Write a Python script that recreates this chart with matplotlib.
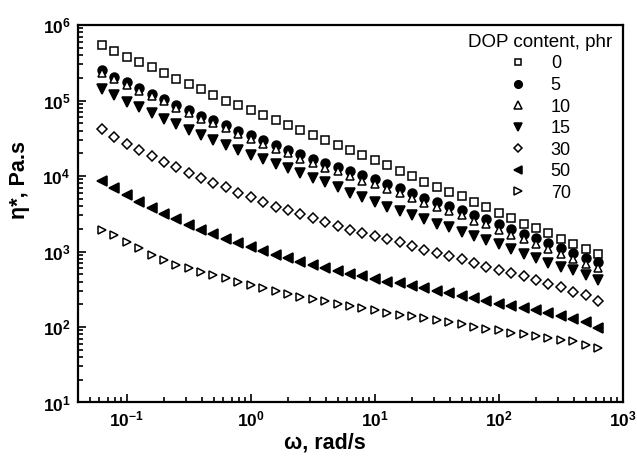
import numpy as np
import matplotlib.pyplot as plt
from matplotlib.ticker import FuncFormatter, LogLocator

plt.rcParams['font.family'] = ['Liberation Sans', 'DejaVu Sans']
plt.rcParams['mathtext.fontset'] = 'custom'
plt.rcParams['mathtext.rm'] = 'Liberation Sans'
plt.rcParams['mathtext.bf'] = 'Liberation Sans:bold'

# частота, рад/с
omega = [0.0628, 0.0791, 0.0995, 0.125, 0.158, 0.199, 0.250, 0.315, 0.396, 0.499,
         0.628, 0.791, 0.995, 1.25, 1.58, 1.99, 2.50, 3.15, 3.96, 4.99,
         6.28, 7.91, 9.95, 12.5, 15.8, 19.9, 25.0, 31.5, 39.6, 49.9,
         62.8, 79.1, 99.5, 125, 158, 199, 250, 315, 396, 499, 628]

# lg(eta*), Па.с, для разного содержания ДОФ
lg_eta_0 = [5.74, 5.66, 5.58, 5.51, 5.44, 5.37, 5.29, 5.22, 5.15, 5.07,
            5.00, 4.94, 4.87, 4.81, 4.74, 4.68, 4.61, 4.54, 4.48, 4.41,
            4.34, 4.28, 4.21, 4.14, 4.07, 4.00, 3.925, 3.86, 3.79, 3.73,
            3.65, 3.59, 3.51, 3.44, 3.37, 3.31, 3.24, 3.17, 3.10, 3.03, 2.97]
lg_eta_5 = [5.40, 5.31, 5.24, 5.16, 5.09, 5.02, 4.94, 4.87, 4.80, 4.74,
            4.67, 4.60, 4.54, 4.48, 4.41, 4.35, 4.29, 4.23, 4.17, 4.12,
            4.06, 4.01, 3.96, 3.90, 3.84, 3.78, 3.715, 3.66, 3.60, 3.55,
            3.48, 3.43, 3.36, 3.295, 3.23, 3.175, 3.11, 3.045, 2.98, 2.92, 2.865]
lg_eta_10 = [5.37, 5.28, 5.21, 5.13, 5.06, 4.99, 4.90, 4.83, 4.76, 4.70,
             4.63, 4.55, 4.49, 4.43, 4.36, 4.30, 4.23, 4.17, 4.11, 4.06,
             4.00, 3.94, 3.89, 3.83, 3.77, 3.71, 3.645, 3.59, 3.53, 3.48,
             3.41, 3.36, 3.29, 3.225, 3.16, 3.095, 3.03, 2.965, 2.90, 2.84, 2.785]
lg_eta_15 = [5.15, 5.07, 4.98, 4.92, 4.83, 4.76, 4.69, 4.61, 4.54, 4.48,
             4.41, 4.34, 4.28, 4.22, 4.16, 4.10, 4.04, 3.98, 3.92, 3.85,
             3.78, 3.72, 3.65, 3.59, 3.54, 3.48, 3.43, 3.37, 3.32, 3.26,
             3.21, 3.15, 3.10, 3.03, 2.97, 2.91, 2.85, 2.80, 2.75, 2.69, 2.62]
lg_eta_30 = [4.62, 4.52, 4.43, 4.34, 4.26, 4.19, 4.12, 4.04, 3.98, 3.91,
             3.85, 3.78, 3.72, 3.66, 3.59, 3.55, 3.50, 3.44, 3.395, 3.34,
             3.29, 3.25, 3.20, 3.16, 3.12, 3.07, 3.02, 2.98, 2.94, 2.90,
             2.85, 2.80, 2.755, 2.71, 2.67, 2.62, 2.57, 2.53, 2.47, 2.42, 2.35]
lg_eta_50 = [3.93, 3.84, 3.75, 3.66, 3.58, 3.50, 3.43, 3.35, 3.29, 3.23,
             3.17, 3.11, 3.055, 3.01, 2.95, 2.91, 2.865, 2.82, 2.78, 2.745,
             2.70, 2.67, 2.635, 2.60, 2.58, 2.54, 2.51, 2.48, 2.445, 2.41,
             2.38, 2.35, 2.31, 2.28, 2.25, 2.22, 2.18, 2.15, 2.10, 2.06, 1.99]
lg_eta_70 = [3.29, 3.22, 3.13, 3.04, 2.955, 2.89, 2.82, 2.78, 2.73, 2.69,
             2.645, 2.60, 2.556, 2.515, 2.475, 2.44, 2.40, 2.37, 2.34, 2.31,
             2.28, 2.25, 2.22, 2.19, 2.16, 2.14, 2.115, 2.09, 2.06, 2.04,
             2.00, 1.98, 1.96, 1.925, 1.91, 1.88, 1.85, 1.83, 1.81, 1.76, 1.72]

dop = ['0', '5', '10', '15', '30', '50', '70']
series = [lg_eta_0, lg_eta_5, lg_eta_10, lg_eta_15, lg_eta_30, lg_eta_50, lg_eta_70]
markers = ['s', 'o', '^', 'v', 'D', '<', '>']
filled = [False, True, False, True, False, True, False]
sizes = [5.4, 6.4, 6.2, 6.8, 5.2, 6.8, 6.2]

fig = plt.figure(figsize=(6.37, 4.59), dpi=100)
ax = fig.add_axes([0.1217, 0.1231, 0.8564, 0.8224])

for lab, lg, m, f, s in zip(dop, series, markers, filled, sizes):
    ax.plot(omega, 10 ** np.array(lg), linestyle='none', marker=m, markersize=s,
            markeredgewidth=1.1, markeredgecolor='black',
            markerfacecolor='black' if f else 'white', label=lab)

ax.set_xscale('log')
ax.set_yscale('log')
ax.set_xlim(0.04, 1000)
ax.set_ylim(10, 1e6)

ax.xaxis.set_major_locator(LogLocator(base=10, numticks=10))
ax.yaxis.set_major_locator(LogLocator(base=10, numticks=10))
ax.xaxis.set_minor_locator(LogLocator(base=10, subs=np.arange(2, 10), numticks=20))
ax.yaxis.set_minor_locator(LogLocator(base=10, subs=np.arange(2, 10), numticks=20))

fmt = FuncFormatter(lambda v, p: r'$\mathbf{10^{%d}}$' % round(np.log10(v)))
ax.xaxis.set_major_formatter(fmt)
ax.yaxis.set_major_formatter(fmt)

ax.tick_params(which='both', direction='in', top=False, right=False, width=1.2)
ax.tick_params(which='major', length=6, labelsize=12.5, pad=5)
ax.tick_params(which='minor', length=3.5)
for sp in ax.spines.values():
    sp.set_linewidth(1.6)

ax.set_xlabel('ω, rad/s', fontsize=15.5, fontweight='bold')
ax.set_ylabel('η*, Pa.s', fontsize=15.5, fontweight='bold')
ax.xaxis.set_label_coords(0.454, -0.08)
ax.yaxis.set_label_coords(-0.088, 0.59)

leg = ax.legend(title='DOP content, phr', loc='upper right', frameon=False,
                fontsize=13, title_fontsize=13.5, handlelength=1.0, markerscale=0.85,
                handletextpad=1.3, labelspacing=0.25, borderaxespad=0.2,
                bbox_to_anchor=(1.0, 1.005))

plt.savefig('out.png', dpi=100)
